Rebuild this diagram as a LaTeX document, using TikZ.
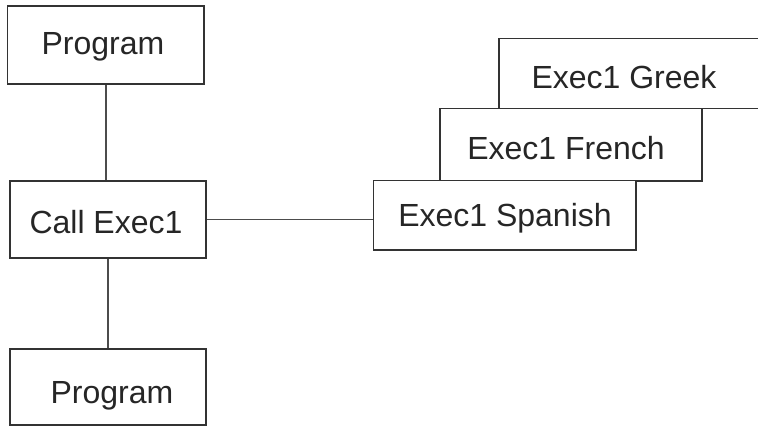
\documentclass[tikz,border=0pt]{standalone}
\usepackage{fontspec}
\setmainfont{Liberation Sans}
\begin{document}
\begin{tikzpicture}[x=1pt,y=-1pt,
  box/.style={draw=black!80, line width=1.6pt, fill=white, inner sep=0pt, rectangle},
  lbl/.style={inner sep=0pt, anchor=base, text=black!85, font=\fontsize{32}{38}\selectfont},
  conn/.style={draw=black!70, line width=1.6pt}]
\clip (0,0) rectangle (758,426);
% left column
\node[box, minimum width=196.5pt, minimum height=78pt] (p1) at (105.75,45) {};
\node[box, minimum width=196pt, minimum height=77pt] (call) at (108,219.5) {};
\node[box, minimum width=196pt, minimum height=76pt] (p2) at (108,387) {};
\node[lbl] (t1) at (103,54) {Program};
\node[lbl] (tc) at (106,233) {Call Exec1};
\node[lbl] (t2) at (112,403) {Program};
% stacked exec boxes
\node[box, minimum width=271pt, minimum height=70pt] (greek) at (634.5,73.3) {};
\node[box, minimum width=262pt, minimum height=72.4pt] (french) at (571,144.5) {};
\node[box, minimum width=262.4pt, minimum height=69.3pt] (spanish) at (504.5,215.3) {};
\node[lbl] (tg) at (624,88.3) {Exec1 Greek};
\node[lbl] (tf) at (566,159.3) {Exec1 French};
\node[lbl] (ts) at (505,226.7) {Exec1 Spanish};
% connectors
\draw[conn] (p1.south) -- (p1.south |- call.north);
\draw[conn] (call.south) -- (call.south |- p2.north);
\draw[conn] (call.east) -- (call.east -| spanish.west);
\end{tikzpicture}
\end{document}
